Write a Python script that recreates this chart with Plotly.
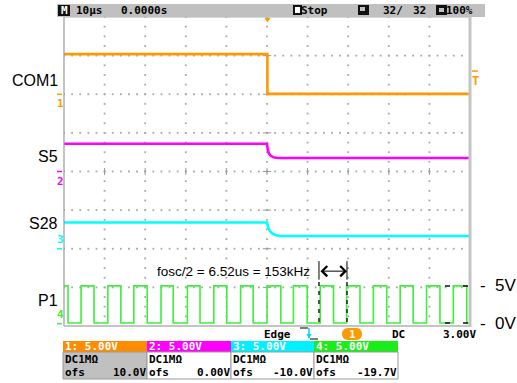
import plotly.graph_objects as go

# ------------------------------------------------------------------ data
channel_names = ["COM1", "S5", "S28", "P1"]
channel_colors = ["#ff9900", "#ff00ff", "#00ffff", "#3cf03c"]
box_colors = ["#ff8c00", "#ff00ff", "#00f0ff", "#1aee1a"]
volts_per_div = [5.0, 5.0, 5.0, 5.0]
ofs_volts = [10.0, 0.0, -10.0, -19.7]
ofs_labels = ["10.0V", "0.00V", "-10.0V", "-19.7V"]
scale_labels = ["5.00V", "5.00V", "5.00V", "5.00V"]
coupling_labels = ["DC1M\u03a9", "DC1M\u03a9", "DC1M\u03a9", "DC1M\u03a9"]

time_per_div_label = "10\u00b5s"
delay_label = "0.0000s"
acq_count_label = ["32/", "32"]
trigger_level_v = 3.0
trigger_level_label = "3.00V"
freq_note = "fosc/2 = 6.52us = 153kHz"
cursor_t = [12.8, 19.7]

# time in microseconds, values in volts
com1_t = [-50.0, 0.1, 0.1, 50.0]
com1_v = [5.2, 5.2, 0.05, 0.05]
s5_t = [-50.0, 0.0, 0.2, 0.5, 1.0, 1.6, 2.6, 50.0]
s5_v = [3.6, 3.6, 2.8, 2.3, 2.0, 1.85, 1.75, 1.75]
s28_t = [-50.0, 0.0, 0.3, 0.8, 1.4, 2.2, 3.2, 50.0]
s28_v = [3.4, 3.4, 2.7, 2.25, 1.95, 1.75, 1.65, 1.65]
p1_rise_t = [-45.8, -39.2, -32.8, -26.1, -19.6, -13.1, -6.5, 0.0,
             6.5, 13.1, 19.6, 26.2, 32.8, 39.3, 45.9]
p1_fall_t = [-49.0, -42.6, -36.0, -29.5, -23.1, -16.5, -9.9, -3.4,
             3.4, 9.9, 16.4, 22.9, 29.5, 36.0, 42.6, 49.2]
p1_high_v = 4.9
p1_low_v = 0.08

# ------------------------------------------------------------------ build
W, H = 517, 383
L, R, T, B = 64, 470, 17, 326
MONO = "DejaVu Sans Mono"
SANS = "Liberation Sans"


def px(x):
    return (x - L) / (R - L)


def py(y):
    return (B - y) / (B - T)


def to_div(vals, ch):
    return [(v + ofs_volts[ch]) / volts_per_div[ch] for v in vals]


# P1 square wave from edge times
events = sorted([(t, p1_high_v) for t in p1_rise_t] + [(t, p1_low_v) for t in p1_fall_t])
p1_t, p1_v, cur = [-50.0], [p1_high_v], p1_high_v
for t, v in events:
    p1_t += [t, t]
    p1_v += [cur, v]
    cur = v
p1_t.append(50.0)
p1_v.append(cur)

fig = go.Figure()

# dotted graticule
gx, gy = [], []
for k in range(-4, 5):
    xv = k * 10
    j = -16
    while j <= 16:
        gx.append(xv)
        gy.append(j * 0.25)
        j += 1
for k in range(-3, 4):
    j = -25
    while j <= 25:
        gx.append(j * 2)
        gy.append(k)
        j += 1
fig.add_trace(go.Scatter(x=gx, y=gy, mode="markers", hoverinfo="skip",
                         marker=dict(symbol="square", size=1.8, color="#a8a8a8", line=dict(width=0))))
# centre-line ticks
fig.add_trace(go.Scatter(x=[k * 10 for k in range(-4, 5)], y=[0] * 9, mode="markers", hoverinfo="skip",
                         marker=dict(symbol="line-ns", size=5, line=dict(width=1, color="#999999"))))
fig.add_trace(go.Scatter(x=[0] * 7, y=list(range(-3, 4)), mode="markers", hoverinfo="skip",
                         marker=dict(symbol="line-ew", size=6, line=dict(width=1, color="#999999"))))

series = [(com1_t, com1_v), (s5_t, s5_v), (s28_t, s28_v), (p1_t, p1_v)]
widths = [2.6, 2.6, 2.6, 1.6]
for ch, (tt, vv) in enumerate(series):
    fig.add_trace(go.Scatter(x=tt, y=to_div(vv, ch), mode="lines", hoverinfo="skip",
                             line=dict(color=channel_colors[ch], width=widths[ch])))

shapes = []
ann = []


def rect(x0, y0, x1, y1, fill, line="rgba(0,0,0,0)", lw=0):
    shapes.append(dict(type="rect", xref="paper", yref="paper", x0=px(x0), x1=px(x1),
                       y0=py(y1), y1=py(y0), fillcolor=fill, line=dict(color=line, width=lw), layer="above"))


def seg(x0, y0, x1, y1, color, lw=1, dash="solid"):
    shapes.append(dict(type="line", xref="paper", yref="paper", x0=px(x0), x1=px(x1),
                       y0=py(y0), y1=py(y1), line=dict(color=color, width=lw, dash=dash), layer="above"))


def txt(x, y, s, color="black", size=11, family=MONO, xanchor="left", yanchor="middle", bold=None):
    if bold is None:
        bold = family == MONO
    ann.append(dict(xref="paper", yref="paper", x=px(x), y=py(y), text=("<b>%s</b>" % s) if bold else s,
                    showarrow=False, font=dict(color=color, size=size, family=family),
                    xanchor=xanchor, yanchor=yanchor, borderpad=0, borderwidth=0))


# screen border
seg(L, T, R, T, "#b0b0b0", 1)
seg(L, T, L, B, "#9a9a9a", 1.2)
seg(R, T, R, B + 1, "#c4c4c4", 3)
seg(L, B, R, B, "#c4c4c4", 2)

# header bar
rect(57, 4, 485, 17, "#c0c0c0")
rect(58, 5, 70, 16, "#111111")
txt(64, 10.5, "M", color="white", xanchor="center")
txt(76, 10.5, time_per_div_label)
txt(121, 10.5, delay_label)
rect(293, 5, 302, 15, "#111111")
rect(295, 7, 300, 13, "#ffffff")
txt(301, 10.5, "Stop")
rect(358, 5, 369, 15, "#111111")
rect(360, 7, 365, 11, "#c0c0c0")
txt(383, 10.5, acq_count_label[0])
txt(413, 10.5, acq_count_label[1])
rect(436, 5, 447, 15, "#111111")
rect(439, 8, 444, 12, "#c0c0c0")
txt(446, 10.5, "100%")

# trigger position marker (top)
shapes.append(dict(type="path", xref="paper", yref="paper",
                   path="M {a},{b} L {c},{b} L {d},{e} Z".format(
                       a=px(264.5), c=px(270.5), b=py(18), d=px(267.5), e=py(22.5)),
                   fillcolor="#ff9900", line=dict(width=0), layer="above"))

# trigger level marker (right)
trig_div = (trigger_level_v + ofs_volts[0]) / volts_per_div[0]
shapes.append(dict(type="line", xref="paper", yref="y", x0=px(472), x1=px(478), y0=trig_div, y1=trig_div,
                   line=dict(color="#ff9900", width=1.5)))
ann.append(dict(xref="paper", yref="y", x=px(475), y=trig_div, text="<b>T</b>", showarrow=False,
                font=dict(color="#ff9900", size=12, family=MONO), xanchor="center", yanchor="top",
                yshift=-1))

# channel ground markers + names
for ch in range(4):
    gdiv = ofs_volts[ch] / volts_per_div[ch]
    shapes.append(dict(type="line", xref="paper", yref="y", x0=px(57), x1=px(62), y0=gdiv, y1=gdiv,
                       line=dict(color=channel_colors[ch], width=1.5)))
    below = ch < 2
    ann.append(dict(xref="paper", yref="y", x=px(60), y=gdiv, text="<b>%d</b>" % (ch + 1), showarrow=False,
                    font=dict(color=channel_colors[ch], size=11, family=MONO), xanchor="center",
                    yanchor="top" if below else "bottom", yshift=-1 if below else 1))

label_y = [80, 156, 224, 300]
for ch in range(4):
    txt(58, label_y[ch], channel_names[ch], size=16, family=SANS, xanchor="right")

# right side 5V / 0V labels for P1
for v, lab in [(5.0, "5V"), (0.0, "0V")]:
    d = (v + ofs_volts[3]) / volts_per_div[3]
    ann.append(dict(xref="paper", yref="y", x=px(478), y=d, text="-\u00a0\u00a0" + lab, showarrow=False,
                    font=dict(color="black", size=17, family=SANS), xanchor="left", yanchor="middle"))

# frequency note and cursors
txt(157, 271, freq_note, size=13.5, family=SANS)
for ct in cursor_t:
    shapes.append(dict(type="line", xref="x", yref="y", x0=ct, x1=ct, y0=-2.32, y1=-2.8,
                       line=dict(color="black", width=1)))
    shapes.append(dict(type="line", xref="x", yref="y", x0=ct, x1=ct, y0=-2.86, y1=-4.0,
                       line=dict(color="#222222", width=1.5, dash="4px,5px")))
ann.append(dict(xref="x", yref="y", axref="x", ayref="y", x=cursor_t[1], y=-2.58, ax=cursor_t[0], ay=-2.58,
                text="", showarrow=True, arrowhead=4, startarrowhead=4, arrowside="end+start",
                arrowsize=2.0, arrowwidth=1, arrowcolor="black"))
for yy in [286, 323]:
    seg(445, yy, 450, yy, "#111111", 1.5)
    seg(463, yy, 468, yy, "#111111", 1.5)

# trigger info line
txt(264, 334, "Edge")
seg(300, 328, 308, 328, "black", 1)
seg(310, 339, 318, 339, "black", 1)
seg(309, 328, 309, 338, "#00d8f0", 1.5)
shapes.append(dict(type="path", xref="paper", yref="paper",
                   path="M {a},{b} L {c},{b} L {d},{e} Z".format(a=px(306.5), c=px(311.5), b=py(334),
                                                                   d=px(309), e=py(339)),
                   fillcolor="#00d8f0", line=dict(width=0), layer="above"))
pill = "M {0},{1} L {2},{1} C {3},{1} {3},{4} {2},{4} L {0},{4} C {5},{4} {5},{1} {0},{1} Z".format(
    px(348), py(328), px(356), px(364), py(340), px(340))
shapes.append(dict(type="path", xref="paper", yref="paper", path=pill, fillcolor="#ff9900",
                   line=dict(width=0), layer="above"))
txt(352, 334, "1", color="white", xanchor="center")
txt(392, 334, "DC")
txt(476, 334, trigger_level_label, xanchor="right")

# channel info boxes
bx = [63, 147, 231, 314, 398]
for ch in range(4):
    x0, x1 = bx[ch], bx[ch + 1]
    rect(x0, 341, x1, 352, box_colors[ch])
    rect(x0, 352, x1, 379, "#c0c0c0" if ch == 0 else "#ffffff", "#9a9a9a", 1)
    txt(x0 + 2, 346.5, "%d: %s" % (ch + 1, scale_labels[ch]), color="white")
    txt(x0 + 2, 359, coupling_labels[ch])
    txt(x0 + 2, 372.5, "ofs")
    txt(x1 - 1, 372.5, ofs_labels[ch], xanchor="right")

fig.update_layout(
    width=W, height=H,
    margin=dict(l=L, r=W - R, t=T, b=H - B),
    paper_bgcolor="white", plot_bgcolor="white",
    showlegend=False,
    xaxis=dict(range=[-50, 50], showgrid=False, zeroline=False, showticklabels=False, ticks="",
               showline=False, fixedrange=True),
    yaxis=dict(range=[-4, 4], showgrid=False, zeroline=False, showticklabels=False, ticks="",
               showline=False, fixedrange=True),
    shapes=shapes, annotations=ann,
)
fig.write_html("out.html", config={"displayModeBar": False},
               post_script="document.body.style.margin='0px';document.body.style.overflow='hidden';")
